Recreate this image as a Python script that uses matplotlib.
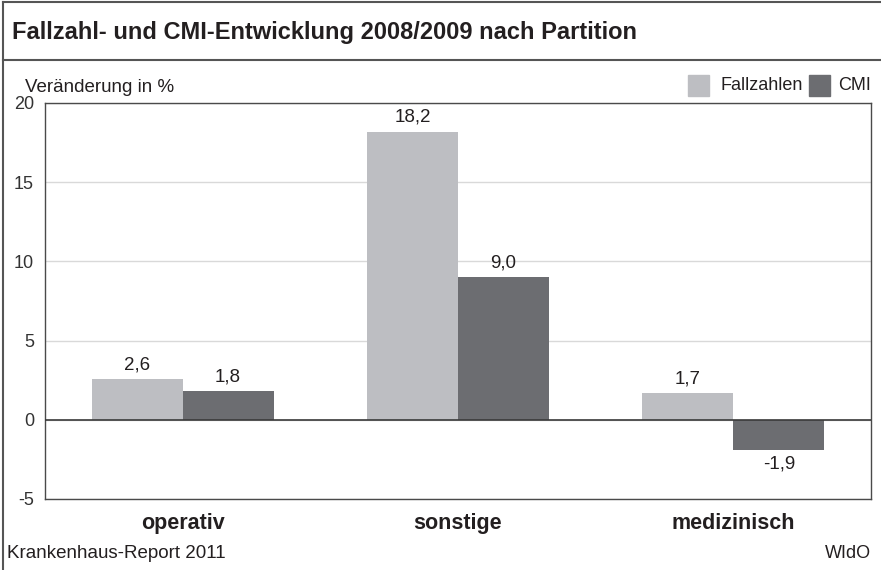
import numpy as np
import matplotlib.pyplot as plt
from matplotlib.patches import Rectangle
from matplotlib.lines import Line2D

plt.rcParams['font.family'] = ['Liberation Sans Narrow', 'Liberation Sans', 'DejaVu Sans']

kategorien = ['operativ', 'sonstige', 'medizinisch']
fallzahlen = [2.6, 18.2, 1.7]
cmi = [1.8, 9.0, -1.9]
yticks = [-5, 0, 5, 10, 15, 20]

hell = '#bdbec2'
dunkel = '#6c6d71'
text_c = '#231f20'

fig = plt.figure(figsize=(8.81, 5.70), dpi=100)
W, H = 881, 570
ax = fig.add_axes([45 / W, 1 - 499 / H, (871 - 45) / W, (499 - 103) / H])

x = np.arange(len(kategorien))
b = 0.33
r1 = ax.bar(x - b / 2, fallzahlen, b, color=hell, zorder=3)
r2 = ax.bar(x + b / 2, cmi, b, color=dunkel, zorder=3)

for rects, werte in ((r1, fallzahlen), (r2, cmi)):
    for r, v in zip(rects, werte):
        lab = f'{v:.1f}'.replace('.', ',')
        cx = r.get_x() + r.get_width() / 2
        if v >= 0:
            ax.annotate(lab, (cx, v), xytext=(0, 4), textcoords='offset points',
                        ha='center', va='bottom', fontsize=13.5, color=text_c)
        else:
            ax.annotate(lab, (cx, v), xytext=(0, -4), textcoords='offset points',
                        ha='center', va='top', fontsize=13.5, color=text_c)

ax.set_xlim(-0.5, 2.5)
ax.set_ylim(-5, 20)
ax.set_yticks(yticks)
ax.set_yticklabels([str(t) for t in yticks], fontsize=13, color='#333333')
ax.set_xticks(x)
ax.set_xticklabels(kategorien, fontsize=15.5, fontweight='bold', color=text_c)
ax.tick_params(axis='y', length=0, pad=8)
ax.tick_params(axis='x', length=0, pad=10)
ax.grid(axis='y', color='#d9d9d9', linewidth=1, zorder=0)
ax.axhline(0, color='#3a3a3a', linewidth=1.2, zorder=4)
for s in ax.spines.values():
    s.set_color('#4a4a4a')
    s.set_linewidth(1)

# Rahmen und Titel
fig.add_artist(Line2D([3 / W, 3 / W], [0, 1 - 2 / H], color='#555555', linewidth=1.5))
fig.add_artist(Line2D([3 / W, 1], [1 - 2 / H, 1 - 2 / H], color='#555555', linewidth=1.5))
fig.add_artist(Line2D([3 / W, 1], [1 - 60 / H, 1 - 60 / H], color='#555555', linewidth=1.5))
fig.text(12 / W, 1 - 33 / H, 'Fallzahl- und CMI-Entwicklung 2008/2009 nach Partition',
         fontsize=17, fontweight='bold', color=text_c, va='center')
fig.text(25 / W, 1 - 88 / H, 'Veränderung in %', fontsize=13.5, color=text_c, va='center')

# Legende
fig.add_artist(Rectangle((688 / W, 1 - 96 / H), 21 / W, 21 / H, color=hell))
fig.text(720 / W, 1 - 86 / H, 'Fallzahlen', fontsize=13, color=text_c, va='center')
fig.add_artist(Rectangle((809 / W, 1 - 96 / H), 21 / W, 21 / H, color=dunkel))
fig.text(838 / W, 1 - 86 / H, 'CMI', fontsize=13, color=text_c, va='center')

fig.text(7 / W, 1 - 553 / H, 'Krankenhaus-Report 2011', fontsize=13.5, color=text_c, va='center')
fig.text(871 / W, 1 - 553 / H, 'WIdO', fontsize=13, color=text_c, va='center', ha='right')

fig.savefig('out.png', dpi=100)
